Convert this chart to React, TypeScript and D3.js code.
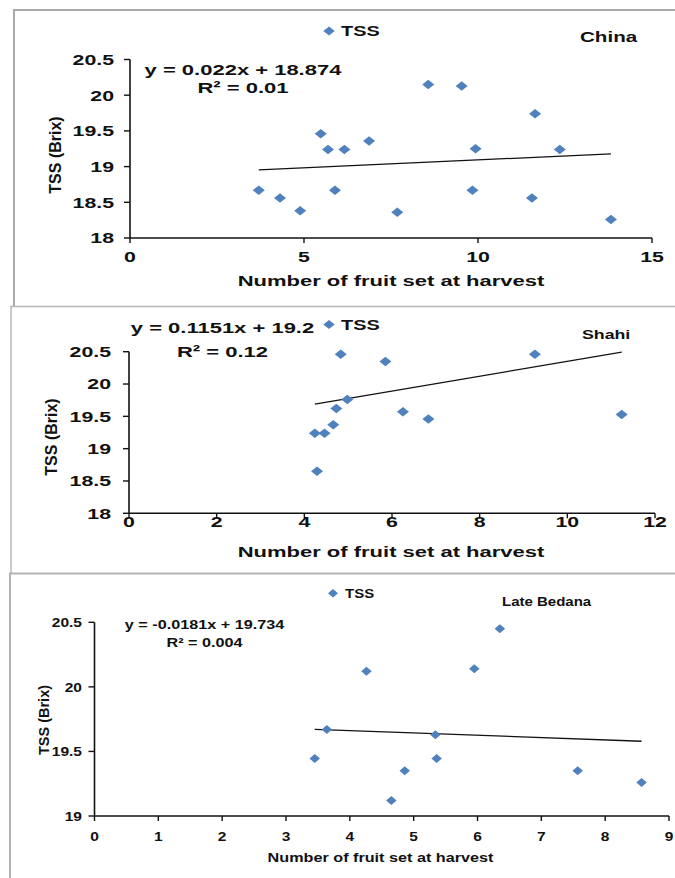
import React from "react";
import * as d3 from "d3";

// Number of fruit set at harvest vs. TSS (°Brix) for three litchi cultivars
const chinaFruitSet = [3.7, 4.31, 4.89, 5.48, 5.69, 5.89, 6.16, 6.87, 7.68, 8.57, 9.53, 9.84, 9.93, 11.55, 11.64, 12.35, 13.82];
const chinaTSS = [18.67, 18.56, 18.38, 19.46, 19.24, 18.67, 19.24, 19.36, 18.36, 20.15, 20.13, 18.67, 19.25, 18.56, 19.74, 19.24, 18.26];

const shahiFruitSet = [4.24, 4.29, 4.46, 4.66, 4.73, 4.83, 4.98, 5.85, 6.25, 6.83, 9.26, 11.24];
const shahiTSS = [19.24, 18.65, 19.24, 19.37, 19.62, 20.46, 19.76, 20.35, 19.57, 19.46, 20.46, 19.53];

const bedanaFruitSet = [3.45, 3.64, 4.26, 4.65, 4.86, 5.34, 5.36, 5.95, 6.35, 7.57, 8.57];
const bedanaTSS = [19.445, 19.67, 20.12, 19.12, 19.35, 19.63, 19.445, 20.14, 20.45, 19.35, 19.26];

// Linear fits: slope, intercept, R²
const cultivarNames = ["China", "Shahi", "Late Bedana"];
const trendSlopes = [0.022, 0.1151, -0.0181];
const trendIntercepts = [18.874, 19.2, 19.734];
const trendR2 = ["0.01", "0.12", "0.004"];
const equationLabels = ["y = 0.022x + 18.874", "y = 0.1151x + 19.2", "y = -0.0181x + 19.734"];

const xTicksChina = [0, 5, 10, 15];
const xTicksShahi = [0, 2, 4, 6, 8, 10, 12];
const xTicksBedana = [0, 1, 2, 3, 4, 5, 6, 7, 8, 9];
const yTicksWide = [18, 18.5, 19, 19.5, 20, 20.5];
const yTicksNarrow = [19, 19.5, 20, 20.5];

const seriesName = "TSS";
const xTitle = "Number of fruit set at harvest";
const yTitle = "TSS (Brix)";

const BLUE = "#4F81BD";
const FONT = "'Liberation Sans', Arial, Helvetica, sans-serif";

type Layout = {
  x0: number; x1: number; yBottom: number; yTop: number;
  xDomain: [number, number]; yDomain: [number, number];
  xTicks: number[]; yTicks: number[];
  sx: number; tickSize: number; tickSx: number; tickLabelRight: number; xTickBaseline: number;
  legendX: number; legendY: number; legendSize: number;
  nameX: number; nameY: number; nameSize: number;
  eqX: number; eqY: number; r2Y: number; eqSize: number;
  xTitleX: number; xTitleY: number; xTitleSize: number;
  yTitleX: number; yTitleY: number; yTitleSize: number;
  marker: [number, number];
};

const layouts: Layout[] = [
  {
    x0: 130, x1: 652, yBottom: 238, yTop: 59.5,
    xDomain: [0, 15], yDomain: [18, 20.5],
    xTicks: xTicksChina, yTicks: yTicksWide,
    sx: 1.42, tickSize: 15, tickSx: 1.42, tickLabelRight: 114, xTickBaseline: 262,
    legendX: 329, legendY: 31, legendSize: 14,
    nameX: 580, nameY: 41.5, nameSize: 14.5,
    eqX: 243, eqY: 75, r2Y: 93, eqSize: 15.5,
    xTitleX: 391, xTitleY: 286, xTitleSize: 15.5,
    yTitleX: 55, yTitleY: 155, yTitleSize: 16,
    marker: [12, 9.5],
  },
  {
    x0: 129, x1: 655, yBottom: 513.3, yTop: 351.7,
    xDomain: [0, 12], yDomain: [18, 20.5],
    xTicks: xTicksShahi, yTicks: yTicksWide,
    sx: 1.42, tickSize: 15, tickSx: 1.42, tickLabelRight: 111, xTickBaseline: 527,
    legendX: 329, legendY: 324.5, legendSize: 14,
    nameX: 582, nameY: 339, nameSize: 12.5,
    eqX: 222.5, eqY: 333, r2Y: 357, eqSize: 15.5,
    xTitleX: 391, xTitleY: 557, xTitleSize: 15.5,
    yTitleX: 51, yTitleY: 437, yTitleSize: 16,
    marker: [12, 9.5],
  },
  {
    x0: 94.5, x1: 669, yBottom: 816, yTop: 622.3,
    xDomain: [0, 9], yDomain: [19, 20.5],
    xTicks: xTicksBedana, yTicks: yTicksNarrow,
    sx: 1.2, tickSize: 13.5, tickSx: 1.15, tickLabelRight: 82, xTickBaseline: 840.5,
    legendX: 333, legendY: 593.3, legendSize: 12.5,
    nameX: 502, nameY: 605.5, nameSize: 12.5,
    eqX: 204.5, eqY: 629, r2Y: 646.5, eqSize: 13.5,
    xTitleX: 380.5, xTitleY: 861.5, xTitleSize: 13.5,
    yTitleX: 44, yTitleY: 720, yTitleSize: 14.5,
    marker: [10.5, 9],
  },
];

const panelData: [number[], number[]][] = [
  [chinaFruitSet, chinaTSS],
  [shahiFruitSet, shahiTSS],
  [bedanaFruitSet, bedanaTSS],
];

// Horizontally widened bold text anchored at (x, y)
function WideText(props: {
  x: number; y: number; sx: number; size: number;
  anchor?: "start" | "middle" | "end"; dy?: string; children: React.ReactNode;
}) {
  const { x, y, sx, size, anchor = "start", dy, children } = props;
  return (
    <text
      transform={`translate(${x},${y}) scale(${sx},1)`}
      fontSize={size}
      fontWeight="bold"
      fontFamily={FONT}
      textAnchor={anchor}
      dy={dy}
      fill="#111"
    >
      {children}
    </text>
  );
}

function diamond(cx: number, cy: number, w: number, h: number) {
  return `M${cx},${cy - h / 2}L${cx + w / 2},${cy}L${cx},${cy + h / 2}L${cx - w / 2},${cy}Z`;
}

function Panel({ idx }: { idx: number }) {
  const L = layouts[idx];
  const [xs, ys] = panelData[idx];
  const x = d3.scaleLinear().domain(L.xDomain).range([L.x0, L.x1]);
  const y = d3.scaleLinear().domain(L.yDomain).range([L.yBottom, L.yTop]);
  const fmt = d3.format("");

  const xMin = d3.min(xs) as number;
  const xMax = d3.max(xs) as number;
  const fit = (v: number) => trendSlopes[idx] * v + trendIntercepts[idx];
  const trend = d3.line<number>().x((v) => x(v)).y((v) => y(fit(v)))([xMin, xMax]) || "";

  const [mw, mh] = L.marker;
  return (
    <g>
      {/* axes */}
      <line x1={x(L.xDomain[0])} x2={x(L.xDomain[0])} y1={y(L.yDomain[1])} y2={y(L.yDomain[0])} stroke="#111" strokeWidth={1.6} />
      <line x1={x(L.xDomain[0])} x2={x(L.xDomain[1])} y1={y(L.yDomain[0])} y2={y(L.yDomain[0])} stroke="#111" strokeWidth={1.6} />
      {L.yTicks.map((t) => (
        <g key={`yt${t}`}>
          <line x1={L.x0 - 6} x2={L.x0} y1={y(t)} y2={y(t)} stroke="#111" strokeWidth={1.4} />
          <WideText x={L.tickLabelRight} y={y(t)} sx={L.tickSx} size={L.tickSize} anchor="end" dy="0.36em">
            {fmt(t)}
          </WideText>
        </g>
      ))}
      {L.xTicks.map((t) => (
        <g key={`xt${t}`}>
          <line x1={x(t)} x2={x(t)} y1={L.yBottom} y2={L.yBottom + 5} stroke="#111" strokeWidth={1.4} />
          <WideText x={x(t)} y={L.xTickBaseline} sx={L.tickSx} size={L.tickSize} anchor="middle">
            {fmt(t)}
          </WideText>
        </g>
      ))}

      {/* trendline */}
      <path d={trend} stroke="#111" strokeWidth={1.3} fill="none" />

      {/* points */}
      {xs.map((v, i) => (
        <path key={i} d={diamond(x(v), y(ys[i]), mw, mh)} fill={BLUE} />
      ))}

      {/* legend */}
      <path d={diamond(L.legendX, L.legendY, mw * 0.95, mh * 0.95)} fill={BLUE} />
      <WideText x={L.legendX + 12} y={L.legendY} sx={L.sx} size={L.legendSize} dy="0.36em">
        {seriesName}
      </WideText>

      {/* cultivar name */}
      <WideText x={L.nameX} y={L.nameY} sx={L.sx} size={L.nameSize}>
        {cultivarNames[idx]}
      </WideText>

      {/* equation and R² */}
      <WideText x={L.eqX} y={L.eqY} sx={L.sx} size={L.eqSize} anchor="middle">
        {equationLabels[idx]}
      </WideText>
      <WideText x={L.eqX} y={L.r2Y} sx={L.sx} size={L.eqSize} anchor="middle">
        {`R² = ${trendR2[idx]}`}
      </WideText>

      {/* axis titles */}
      <WideText x={L.xTitleX} y={L.xTitleY} sx={L.sx} size={L.xTitleSize} anchor="middle">
        {xTitle}
      </WideText>
      <text
        transform={`translate(${L.yTitleX},${L.yTitleY}) rotate(-90)`}
        fontSize={L.yTitleSize}
        fontWeight="bold"
        fontFamily={FONT}
        textAnchor="middle"
        dy="0.36em"
        fill="#111"
      >
        {yTitle}
      </text>
    </g>
  );
}

export default function App() {
  return (
    <svg
      width={675}
      height={878}
      viewBox="0 0 675 878"
      style={{ position: "absolute", left: 0, top: 0, background: "#fff" }}
    >
      <rect x={0} y={0} width={675} height={878} fill="#fff" />
      {/* panel frames */}
      <path d="M14,306V10H676" stroke="#a9a9a9" strokeWidth={2} fill="none" />
      <path d="M11,573V306.5H676" stroke="#b8b8b8" strokeWidth={1.5} fill="none" />
      <path d="M10,879V573.5H676" stroke="#b4b4b4" strokeWidth={2} fill="none" />
      <Panel idx={0} />
      <Panel idx={1} />
      <Panel idx={2} />
    </svg>
  );
}
